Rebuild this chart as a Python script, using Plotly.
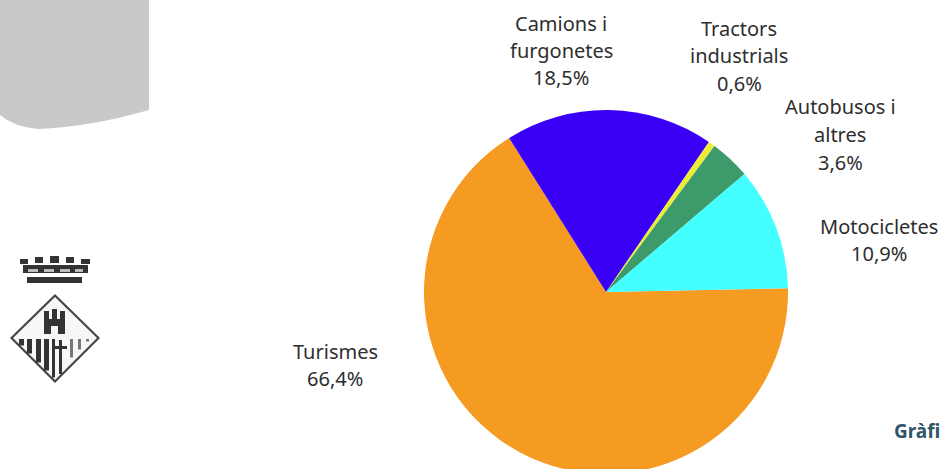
import plotly.graph_objects as go

W, H = 940, 469
FIG_H = 476

categories = ["Turismes", "Camions i furgonetes", "Tractors industrials", "Autobusos i altres", "Motocicletes"]
values = [66.4, 18.5, 0.6, 3.6, 10.9]
colors = ["#F59B22", "#3A00F5", "#EDED35", "#3C9A6B", "#44FFFF"]
label_lines = [["Turismes"], ["Camions i", "furgonetes"], ["Tractors", "industrials"], ["Autobusos i", "altres"], ["Motocicletes"]]
label_centers = [(335, 351), (561, 23), (739, 28), (840, 107), (879, 226)]
LINE_GAP = 27.5

TEXT = "#2e2e2e"


def px(x):
    return x / W


def py(y):
    return 1 - y / FIG_H


def path(points):
    out = []
    for cmd, *coords in points:
        xy = " ".join(f"{px(coords[i]):.5f},{py(coords[i + 1]):.5f}" for i in range(0, len(coords), 2))
        out.append(f"{cmd} {xy}")
    return " ".join(out) + " Z"


def shape(points, fill):
    return dict(type="path", xref="paper", yref="paper", path=path(points), fillcolor=fill, line=dict(width=0), layer="below")


def rect(x0, y0, x1, y1, fill="#333333"):
    return shape([("M", x0, y0), ("L", x1, y0), ("L", x1, y1), ("L", x0, y1)], fill)


shapes = [
    shape([("M", 0, 0), ("L", 149, 0), ("L", 149, 110), ("Q", 90, 127, 38, 129), ("Q", 14, 127, 0, 115)], "#CBC8C8"),
    # crown
    rect(20, 259, 28, 264), rect(35, 257, 43, 263), rect(50, 256, 59, 263), rect(66, 257, 74, 263), rect(81, 259, 90, 264),
    rect(23, 265, 88, 273), rect(28, 269, 38, 272, "#bbbbbb"), rect(44, 269, 54, 272, "#bbbbbb"), rect(60, 269, 70, 272, "#bbbbbb"), rect(75, 269, 83, 272, "#bbbbbb"),
    rect(27, 277, 82, 283),
    # shield
    shape([("M", 55, 294), ("L", 100, 338), ("L", 55, 383), ("L", 10, 338)], "#444444"),
    shape([("M", 55, 297), ("L", 97, 338), ("L", 55, 380), ("L", 13, 338)], "#F7F7F7"),
    # castle
    rect(44, 319, 65, 334), rect(51, 326, 58, 334, "#F7F7F7"), rect(44, 311, 49, 320), rect(52, 309, 57, 320), rect(60, 311, 65, 320),
]
# left stripes and right stripes follow the diamond edge
for x0, w0 in [(19, 5), (27, 5), (36, 5), (44, 5), (52, 3)]:
    shapes.append(rect(x0, 339, x0 + w0, 338 + (42 - abs(x0 + w0 / 2 - 55)) - 1))
for x0 in [70, 78, 86]:
    shapes.append(rect(x0, 339, x0 + 3, 338 + (42 - abs(x0 + 1.5 - 55)) - 6, "#777777"))
shapes.extend([rect(59, 340, 62, 374), rect(54, 346, 67, 349)])

annotations = []


def add_text(text, x, y, size=20, color=TEXT, family="Noto Sans", weight=None):
    annotations.append(dict(
        text=text, xref="paper", yref="paper", x=px(x), y=py(y), xanchor="center", yanchor="middle",
        showarrow=False, font=dict(family=family, size=size, color=color, weight=weight),
    ))


for lines, value, (cx, top) in zip(label_lines, values, label_centers):
    rows = lines + [f"{value:.1f}%".replace(".", ",")]
    for i, row in enumerate(rows):
        add_text(row, cx, top + i * LINE_GAP)
add_text("Gràfi", 917, 431, size=19, color="#2F5568", weight="bold")

R = 182
CX, CY = 606, 292
fig = go.Figure(go.Pie(
    labels=categories, values=values, sort=False, direction="clockwise", rotation=88.8,
    marker=dict(colors=colors, line=dict(width=0)), textinfo="none", hoverinfo="label+percent",
    domain=dict(x=[px(CX - R), px(CX + R)], y=[py(CY + R), py(CY - R)]), showlegend=False,
))
fig.update_layout(
    width=W, height=FIG_H, margin=dict(l=0, r=0, t=0, b=0), paper_bgcolor="white", plot_bgcolor="white",
    shapes=shapes, annotations=annotations,
)
fig.write_html("out.html", config=dict(displayModeBar=False), post_script="document.body.style.margin='0';document.body.style.overflow='hidden';document.documentElement.style.overflow='hidden';")
